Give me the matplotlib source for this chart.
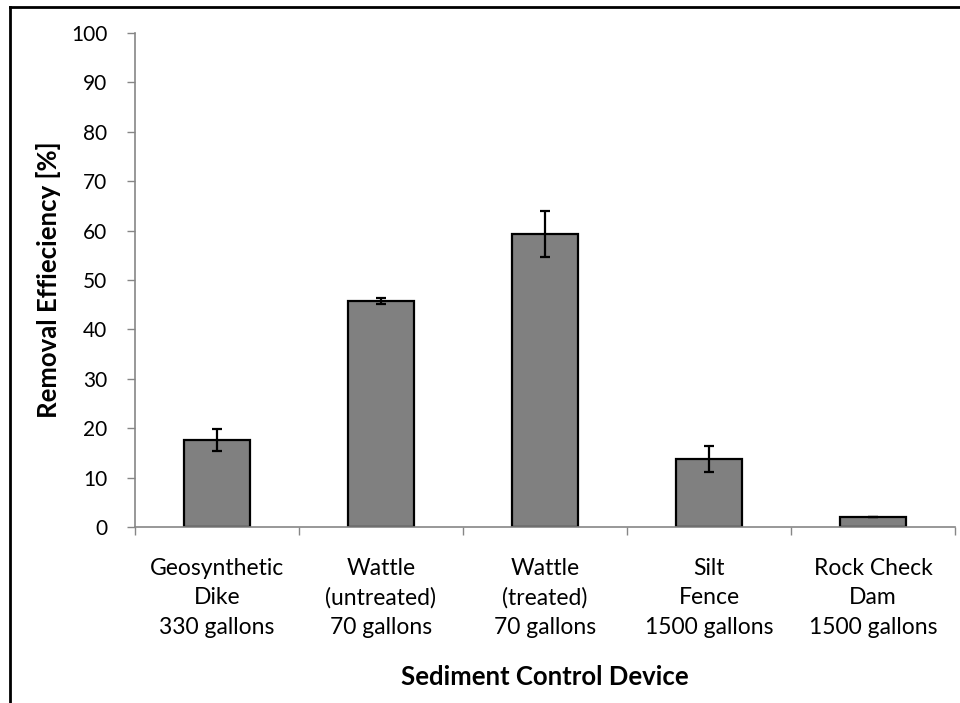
import matplotlib.pyplot as plt
import matplotlib
from matplotlib.lines import Line2D
matplotlib.rcParams["font.family"] = ["Lato", "DejaVu Sans"]

devices = ["Geosynthetic\nDike\n330 gallons", "Wattle\n(untreated)\n70 gallons",
           "Wattle\n(treated)\n70 gallons", "Silt\nFence\n1500 gallons",
           "Rock Check\nDam\n1500 gallons"]
efficiency = [17.6, 45.8, 59.3, 13.7, 2.0]
errors = [2.2, 0.6, 4.6, 2.6, 0.0]

fig = plt.figure(figsize=(9.6, 7.03), dpi=100)
ax = fig.add_axes([0.1406, 0.2504, 0.8542, 0.7026])

x = range(len(devices))
ax.bar(x, efficiency, width=0.4, color="#808080", edgecolor="black", linewidth=1.6, zorder=2)
ax.errorbar(x, efficiency, yerr=errors, fmt="none", ecolor="black",
            elinewidth=1.6, capsize=3.5, capthick=1.6, zorder=3)

ax.set_xlim(-0.5, len(devices) - 0.5)
ax.set_ylim(0, 100)
ax.set_yticks(range(0, 101, 10))
ax.set_xticks(list(x))
ax.set_xticklabels(devices, fontsize=16.5, linespacing=1.5)
ax.set_xticks([i - 0.5 for i in range(len(devices) + 1)], minor=True)
ax.tick_params(axis="x", which="major", length=0, pad=22)
ax.tick_params(axis="x", which="minor", length=6, width=1, color="#868686", direction="out")
ax.tick_params(axis="y", length=6, width=1, color="#868686", pad=14, labelsize=15)

for s in ["top", "right"]:
    ax.spines[s].set_visible(False)
for s in ["left", "bottom"]:
    ax.spines[s].set_color("#868686")
    ax.spines[s].set_linewidth(1.2)

ax.set_ylabel("Removal Effieciency [%]", fontsize=18.5, fontweight="bold", labelpad=7)
ax.set_xlabel("Sediment Control Device", fontsize=18.5, fontweight="bold", labelpad=19)

# outer frame (cut off at right and bottom)
fig.add_artist(Line2D([0.0104, 0.0104], [0.0, 0.990], color="black", linewidth=2,
                      transform=fig.transFigure))
fig.add_artist(Line2D([0.0104, 1.0], [0.990, 0.990], color="black", linewidth=2,
                      transform=fig.transFigure))

plt.savefig("out.png", dpi=100)
